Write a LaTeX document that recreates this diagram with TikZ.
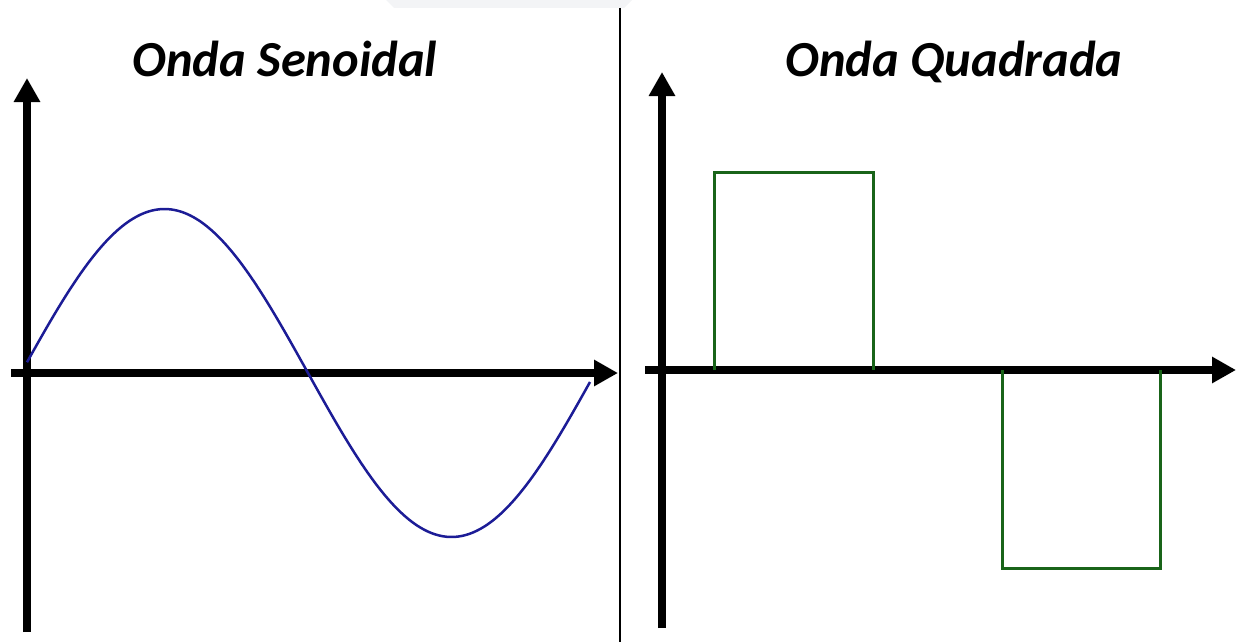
\documentclass[tikz,border=0pt]{standalone}
\usepackage{fontspec}
\setmainfont{Carlito}
\usetikzlibrary{arrows.meta}
\definecolor{sineblue}{RGB}{28,28,150}
\definecolor{sqgreen}{RGB}{25,100,25}
\definecolor{tabgray}{RGB}{243,244,246}
\tikzset{
  axis/.style={line width=7.5pt, -{Triangle[length=24pt,width=25pt]}},
  title/.style={font=\fontsize{50.5}{56}\selectfont\bfseries\itshape, anchor=base},
  sqline/.style={sqgreen, line width=3pt},
}
\begin{document}
\begin{tikzpicture}[x=1pt,y=-1pt]
\useasboundingbox (0,0) rectangle (1236,642);
% top gray tab
\fill[tabgray] (386,0) -- (394,8) -- (624,8) -- (632,0) -- cycle;
% divider
\coordinate (d1) at (620,8);
\coordinate (d2) at (620,642);
\draw[line width=1.5pt] (d1) -- (d2);
% titles
\node[title] (t1) at (285,77) {Onda Senoidal};
\node[title] (t2) at (954,77) {Onda Quadrada};
% left axes
\coordinate (ly0) at (27,632);
\coordinate (ly1) at (27,78);
\coordinate (lx0) at (11,373);
\coordinate (lx1) at (618,373);
\draw[axis] (ly0) -- (ly1);
\draw[axis] (lx0) -- (lx1);
% sine
\draw[sineblue, line width=2.5pt, domain=27:590, samples=150, smooth]
  plot (\x, {373 - 164*sin((\x-21)/574*360)});
% right axes
\coordinate (ry0) at (662,628);
\coordinate (ry1) at (662,72);
\coordinate (rx0) at (645,370);
\coordinate (rx1) at (1236,370);
\draw[axis] (ry0) -- (ry1);
\draw[axis] (rx0) -- (rx1);
% square wave
\draw[sqline] (714,370) -- (714,172) -- (873,172) -- (873,370);
\draw[sqline] (1002,370) -- (1002,568) -- (1160,568) -- (1160,370);
\end{tikzpicture}
\end{document}
